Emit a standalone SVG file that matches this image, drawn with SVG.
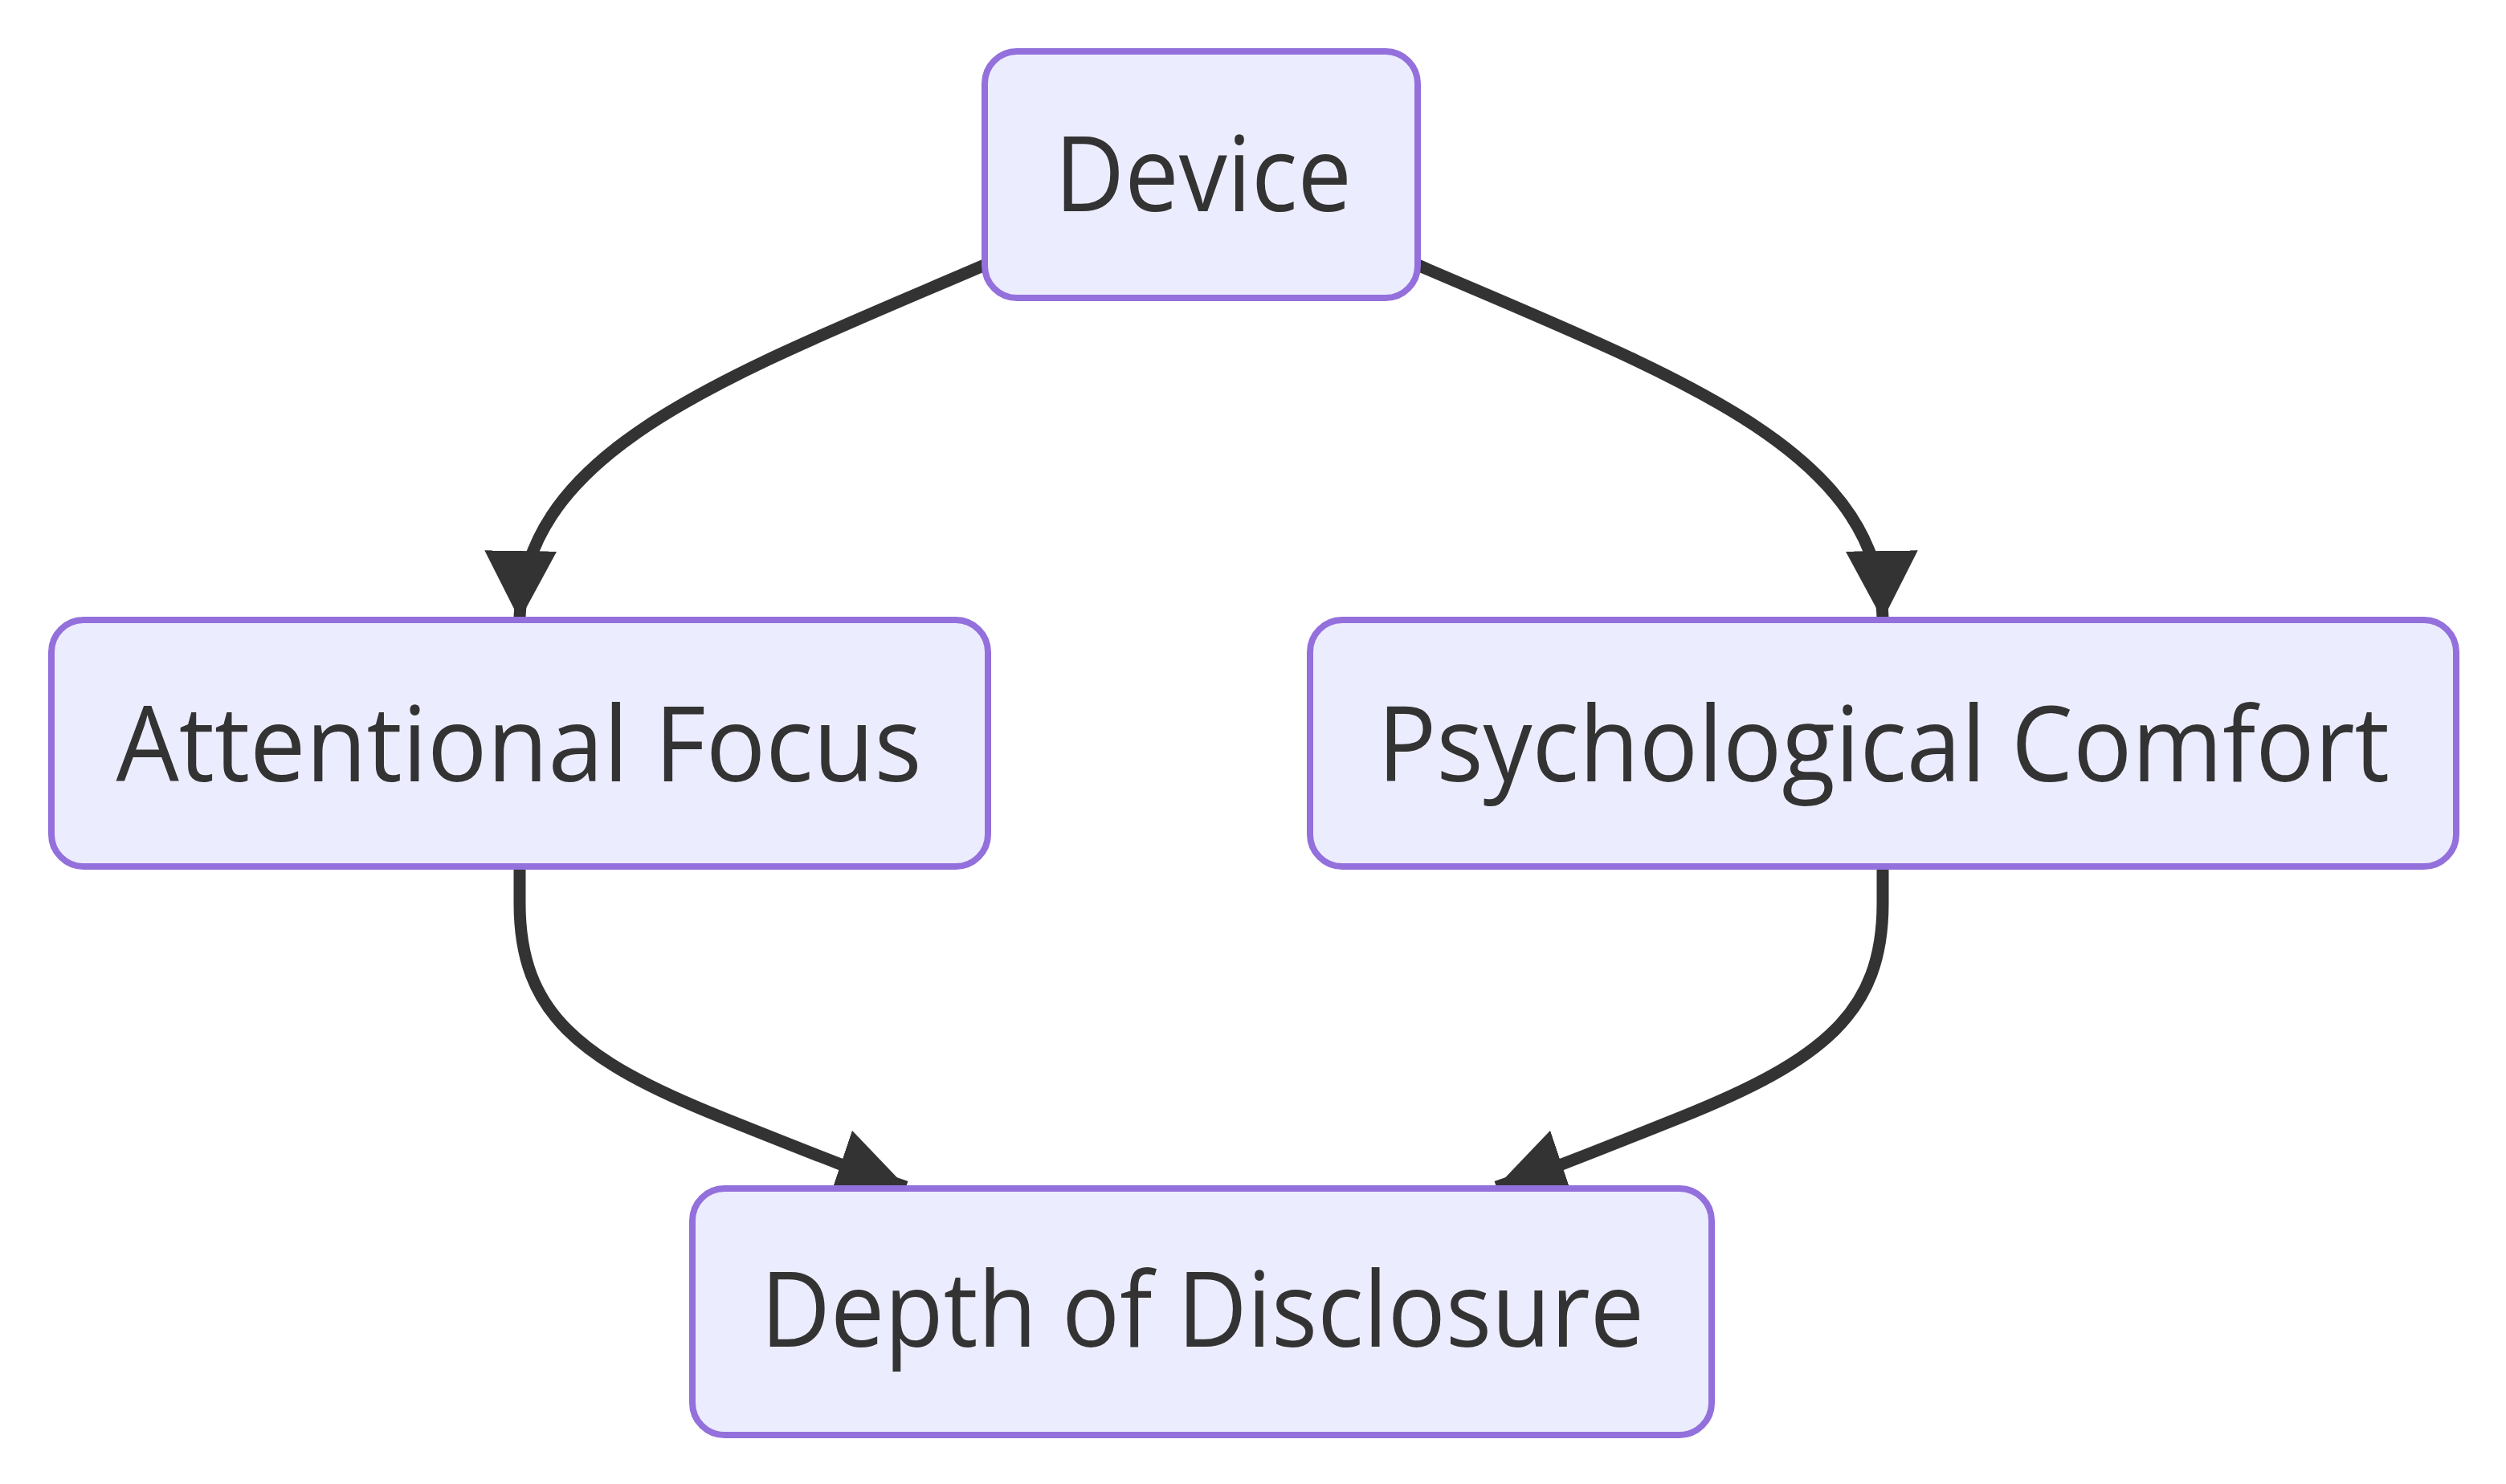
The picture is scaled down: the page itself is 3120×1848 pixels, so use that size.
<svg xmlns="http://www.w3.org/2000/svg" width="3120" height="1848" viewBox="0 0 3120 1848">
<style>
.node rect{fill:#ECECFF;stroke:#9370DB;stroke-width:8}
.node text{font-family:"Open Sans","Liberation Sans",sans-serif;font-size:130px;fill:#333333;text-anchor:middle}
.edge{fill:none;stroke:#333333;stroke-width:15}
</style>
<defs>
<marker id="arrow" viewBox="0 0 86 90" refX="86" refY="45" markerWidth="86" markerHeight="90" markerUnits="userSpaceOnUse" orient="auto">
<path d="M0,0 L86,45 L0,90 z" fill="#333333"/>
</marker>
</defs>
<rect width="3120" height="1848" fill="#ffffff"/>
<g id="connectors">
<path class="edge" marker-end="url(#arrow)" d="M1226,330 C900,470 650,560 647,772"/>
<path class="edge" marker-end="url(#arrow)" d="M1765,330 C2091,470 2341,560 2344,772"/>
<path class="edge" marker-end="url(#arrow)" d="M647,1078 L647,1125 C647,1260 720,1320 900,1392 S1060,1455 1128,1478"/>
<path class="edge" marker-end="url(#arrow)" d="M2344,1078 L2344,1125 C2344,1260 2271,1320 2091,1392 S1931,1455 1863,1478"/>
</g>
<g id="device" class="node">
<rect x="1226" y="64" width="539" height="307" rx="40" ry="40"/>
<text x="1498" y="263" textLength="370" lengthAdjust="spacingAndGlyphs">Device</text>
</g>
<g id="attentional-focus" class="node">
<rect x="64" y="772" width="1166" height="307" rx="40" ry="40"/>
<text x="646" y="973" textLength="1003" lengthAdjust="spacingAndGlyphs">Attentional Focus</text>
</g>
<g id="psychological-comfort" class="node">
<rect x="1631" y="772" width="1427" height="307" rx="40" ry="40"/>
<text x="2345" y="973" textLength="1260" lengthAdjust="spacingAndGlyphs">Psychological Comfort</text>
</g>
<g id="depth-of-disclosure" class="node">
<rect x="862" y="1480" width="1269" height="307" rx="40" ry="40"/>
<text x="1497" y="1677" textLength="1100" lengthAdjust="spacingAndGlyphs">Depth of Disclosure</text>
</g>
</svg>
